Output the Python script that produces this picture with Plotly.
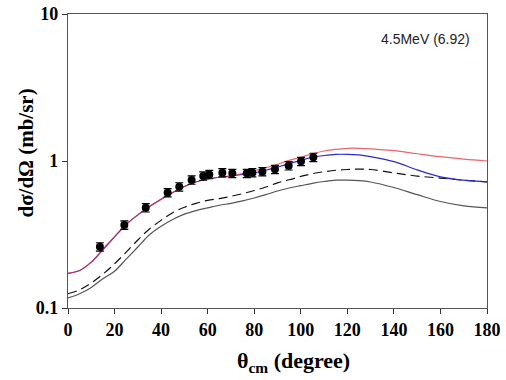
import plotly.graph_objects as go

# Experimental data
exp_theta = [13.7, 24.2, 33.4, 42.8, 47.8, 53.1, 58.1, 60.7, 66.3, 70.6, 76.8, 79.2, 83.5, 88.9, 94.8, 100.1, 105.4]
exp_sigma = [0.261, 0.367, 0.481, 0.609, 0.668, 0.743, 0.791, 0.81, 0.833, 0.824, 0.824, 0.833, 0.846, 0.878, 0.929, 0.995, 1.06]
exp_err_frac = 0.065

# Theory curves
th_theta = [0, 5, 10, 15, 20, 25, 30, 35, 40, 45, 50, 55, 60, 65, 70, 75, 80, 85, 90, 95, 100,
            105, 110, 115, 120, 125, 130, 140, 150, 160, 170, 180]
red = [0.172, 0.18, 0.205, 0.25, 0.305, 0.37, 0.43, 0.49, 0.55, 0.61, 0.67, 0.72, 0.755, 0.775, 0.79,
       0.82, 0.86, 0.90, 0.95, 1.01, 1.06, 1.12, 1.17, 1.20, 1.22, 1.22, 1.21, 1.175, 1.12, 1.07, 1.03, 1.0]
blue = [0.172, 0.18, 0.205, 0.25, 0.305, 0.37, 0.43, 0.49, 0.55, 0.61, 0.67, 0.72, 0.755, 0.775, 0.79,
        0.81, 0.83, 0.865, 0.91, 0.96, 1.01, 1.06, 1.09, 1.11, 1.11, 1.10, 1.07, 0.99, 0.87, 0.78, 0.74, 0.72]
dashed = [0.125, 0.133, 0.148, 0.17, 0.20, 0.24, 0.29, 0.345, 0.395, 0.445, 0.485, 0.515, 0.54, 0.555, 0.575,
          0.60, 0.63, 0.665, 0.71, 0.745, 0.785, 0.82, 0.845, 0.865, 0.875, 0.88, 0.875, 0.83, 0.79, 0.765, 0.74, 0.72]
gray = [0.117, 0.125, 0.138, 0.158, 0.178, 0.215, 0.26, 0.315, 0.36, 0.40, 0.435, 0.46, 0.48, 0.50, 0.515,
        0.535, 0.56, 0.59, 0.625, 0.655, 0.68, 0.705, 0.725, 0.74, 0.74, 0.735, 0.72, 0.66, 0.59, 0.53, 0.495, 0.48]

x_ticks = [0, 20, 40, 60, 80, 100, 120, 140, 160, 180]
y_ticks = [0.1, 1, 10]
y_tick_text = ["0.1", "1", "10"]

fig = go.Figure()
fig.add_trace(go.Scatter(x=th_theta, y=gray, mode="lines", line=dict(color="#555555", width=1.2, shape="spline")))
fig.add_trace(go.Scatter(x=th_theta, y=dashed, mode="lines", line=dict(color="#111111", width=1.2, dash="9px,5px", shape="spline")))
fig.add_trace(go.Scatter(x=th_theta, y=blue, mode="lines", line=dict(color="#2a2ad0", width=1.2, shape="spline")))
fig.add_trace(go.Scatter(x=th_theta, y=red, mode="lines", opacity=0.75, line=dict(color="#e8303a", width=1.2, shape="spline")))
fig.add_trace(go.Scatter(
    x=exp_theta, y=exp_sigma, mode="markers",
    marker=dict(color="black", size=8),
    error_y=dict(type="data", array=[v * exp_err_frac for v in exp_sigma], color="black", thickness=1.2, width=4),
))

tick_font = dict(family="Liberation Serif", size=18, color="black", weight="bold")
fig.update_layout(
    width=506, height=380,
    margin=dict(l=68, r=19, t=14, b=72),
    plot_bgcolor="white", paper_bgcolor="white",
    showlegend=False,
    xaxis=dict(range=[0, 180], tickvals=x_ticks, ticks="outside", ticklen=5, tickcolor="#333333",
               showline=True, linecolor="#555555", linewidth=1.2, mirror=True, showgrid=False, zeroline=False,
               tickfont=tick_font, automargin=False, ticklabeloverflow="allow"),
    yaxis=dict(type="log", range=[-1, 1], tickvals=y_ticks, ticktext=y_tick_text, ticks="outside", ticklen=5,
               tickcolor="#333333", showline=True, linecolor="#555555", linewidth=1.2, mirror=True,
               showgrid=False, zeroline=False, tickfont=tick_font, automargin=False, ticklabeloverflow="allow"),
    annotations=[
        dict(text="<b>θ<sub>cm</sub> (degree)</b>", x=0.537, xref="paper", y=-0.184, yref="paper",
             xanchor="center", yanchor="middle", showarrow=False,
             font=dict(family="Liberation Serif", size=22, color="black")),
        dict(text="<b>dσ/dΩ (mb/sr)</b>", x=-0.1026, xref="paper", y=0.5255, yref="paper",
             xanchor="center", yanchor="middle", textangle=-90, showarrow=False,
             font=dict(family="Liberation Serif", size=21, color="black")),
        dict(text="4.5MeV (6.92)", x=0.964, xref="paper", y=0.915, yref="paper",
             xanchor="right", yanchor="middle", showarrow=False,
             font=dict(family="Liberation Sans", size=14, color="#222222")),
    ],
)

fig.write_html("out.html", config={"displayModeBar": False},
               post_script="document.body.style.margin='0';")
